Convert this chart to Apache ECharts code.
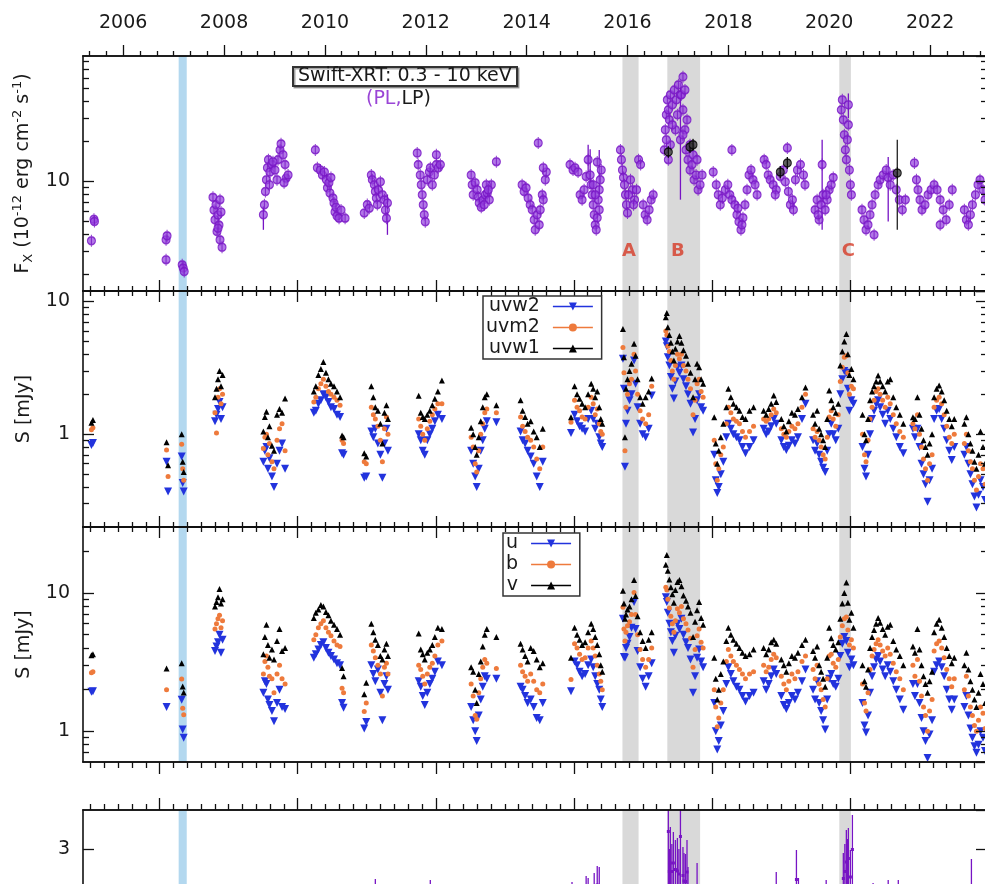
<!DOCTYPE html>
<html>
<head>
<meta charset="utf-8">
<title>Multiwavelength light curves</title>
<script src="https://cdn.jsdelivr.net/npm/echarts@6/dist/echarts.min.js"></script>
<style>
html,body{margin:0;padding:0;background:#ffffff;}
#chart{width:985px;height:884px;}
</style>
</head>
<body>
<div id="chart"></div>
<script>
// ---------------- tick label lists ----------------
const yearTickLabels = [2006, 2008, 2010, 2012, 2014, 2016, 2018, 2020, 2022];
const mjdMajorTicks = [54000, 55000, 56000, 57000, 58000, 59000];
const fxMinorTicks = [2, 3, 4, 5, 6, 7, 8, 9, 20, 30, 40, 50, 60, 70, 80];
const uvMinorTicks = [0.3, 0.4, 0.5, 0.6, 0.7, 0.8, 0.9, 2, 3, 4, 5, 6, 7, 8, 9];
const optMinorTicks = [0.7, 0.8, 0.9, 2, 3, 4, 5, 6, 7, 8, 9, 20];

// ---------------- shaded intervals (decimal year) ----------------
const blueBand = [2007.10, 2007.26];
const greyBands = [[2015.90, 2016.22], [2016.79, 2017.44], [2020.20, 2020.43]];
const bandLetters = ['A', 'B', 'C'];
const bandLetterX = [2016.03, 2017.00, 2020.38];
const bandLetterF = 2.96;

// ---------------- Swift-XRT 0.3-10 keV flux (1e-12 erg cm-2 s-1) ----------------
const xrtPL = [
[2005.37,3.58],[2005.42,5.2],[2005.43,5.0],
[2006.85,3.64],[2006.87,3.9],[2006.85,2.58],
[2007.17,2.36],[2007.19,2.23],[2007.21,2.1],
[2007.78,7.6],[2007.80,6.1],[2007.82,5.15],[2007.84,6.7],[2007.86,4.2],[2007.88,5.6],[2007.90,4.7],[2007.92,3.64],[2007.94,5.9],[2007.96,3.2],[2007.92,7.3],[2007.88,4.45],
[2008.78,5.62],[2008.80,6.68],[2008.82,8.4],[2008.84,10.3],[2008.86,12.7],[2008.88,14.6],[2008.91,11.8],[2008.95,13.4],[2009.01,12.2],[2009.07,14.6],[2009.11,17.3],[2009.13,19.2],[2009.17,15.9],[2009.21,13.4],[2009.23,10.6],[2009.27,11.2],[2009.05,10.3],[2008.97,14.1],[2008.90,9.45],[2009.19,9.8],
[2009.81,17.3],[2009.85,12.7],[2009.91,12.2],[2009.95,11.2],[2009.99,11.8],[2010.03,10.3],[2010.05,8.96],[2010.08,9.8],[2010.10,8.2],[2010.12,10.7],[2010.16,7.5],[2010.18,6.9],[2010.20,5.9],[2010.22,6.4],[2010.24,5.5],[2010.28,5.3],[2010.32,6.1],[2010.40,5.3],
[2010.78,5.8],[2010.84,6.7],[2010.88,6.3],[2010.92,11.2],[2010.94,10.3],[2010.98,9.45],[2011.00,8.4],[2011.02,7.5],[2011.04,6.7],[2011.06,8.66],[2011.10,9.95],[2011.14,7.94],[2011.18,7.28],[2011.20,6.1],[2011.22,5.3],[2011.24,6.9],
[2011.83,16.4],[2011.85,13.4],[2011.89,11.2],[2011.91,9.45],[2011.93,7.94],[2011.95,6.68],[2011.97,5.62],[2011.99,4.98],[2012.03,10.3],[2012.07,11.8],[2012.09,12.7],[2012.13,9.45],[2012.17,11.2],[2012.21,13.4],[2012.21,15.9],[2012.25,12.7],[2012.29,13.4],
[2012.90,11.2],[2012.92,9.45],[2012.94,7.94],[2012.98,9.8],[2013.02,8.66],[2013.04,7.66],[2013.06,6.9],[2013.10,6.4],[2013.14,7.28],[2013.18,7.94],[2013.22,8.2],[2013.26,7.28],[2013.30,9.45],[2013.16,6.68],[2013.20,9.45],[2013.24,8.66],[2013.40,14.1],
[2013.91,9.45],[2013.95,8.4],[2013.99,8.96],[2014.03,7.5],[2014.07,6.68],[2014.11,6.12],[2014.15,5.15],[2014.17,4.33],[2014.21,5.62],[2014.25,4.72],[2014.27,6.12],[2014.31,7.94],[2014.33,7.28],[2014.37,10.3],[2014.39,11.8],[2014.33,12.7],[2014.23,19.5],
[2014.86,13.4],[2014.92,12.2],[2014.96,12.7],[2015.02,11.8],[2015.06,7.94],[2015.10,7.28],[2015.14,8.66],[2015.18,10.9],[2015.22,14.6],[2015.26,11.2],[2015.28,9.45],[2015.30,7.94],[2015.32,6.68],[2015.34,5.62],[2015.36,4.72],[2015.38,4.33],[2015.40,5.33],[2015.42,7.28],[2015.44,8.66],[2015.46,10.3],[2015.48,12.2],[2015.40,14.0],[2015.36,7.94],[2015.32,9.45],[2015.44,6.12],
[2015.86,17.3],[2015.88,14.6],[2015.90,12.2],[2015.92,10.7],[2015.94,9.45],[2015.96,7.94],[2015.98,6.68],[2016.00,5.8],[2016.06,10.3],[2016.10,8.66],[2016.14,7.28],[2016.18,8.66],[2016.22,14.6],[2016.26,13.4],[2016.31,6.68],[2016.35,5.62],[2016.39,5.15],[2016.43,6.12],[2016.47,7.28],[2016.51,7.94],[2016.02,7.94],[2016.12,6.68],
[2016.73,17.3],[2016.75,24.5],[2016.77,31.8],[2016.79,41.2],[2016.81,34.6],[2016.83,29.1],[2016.85,44.9],[2016.89,37.8],[2016.93,48.9],[2016.97,41.2],[2017.01,53.4],[2017.05,44.9],[2017.10,61.3],[2017.07,44.9],[2017.10,34.6],[2017.14,24.5],[2017.16,17.3],[2017.20,14.6],[2017.24,12.2],[2017.28,13.4],[2017.32,10.3],[2017.36,11.2],[2017.40,8.66],[2017.44,9.45],[2017.48,11.2],[2017.14,48.9],[2016.95,24.5],[2016.85,18.9],[2017.05,20.6],[2017.24,18.9],[2016.89,26.7],[2016.99,31.8],[2017.10,22.5],[2017.18,29.1],[2016.77,20.6],[2016.81,14.6],[2017.30,15.9],[2017.38,14.6],
[2017.70,11.8],[2017.76,9.45],[2017.80,7.94],[2017.84,6.68],[2017.88,7.5],[2017.94,8.66],[2017.99,9.45],[2018.03,7.94],[2018.07,7.28],[2018.13,6.68],[2018.17,5.62],[2018.21,4.98],[2018.25,4.33],[2018.29,5.33],[2018.33,6.68],[2018.37,8.66],[2018.41,11.2],[2018.45,12.2],[2018.49,10.3],[2018.53,9.45],[2018.57,7.94],[2018.07,17.3],[2018.19,6.3],[2018.27,4.72],
[2018.71,14.6],[2018.75,13.4],[2018.79,11.2],[2018.83,10.3],[2018.89,9.45],[2018.95,8.66],[2019.03,10.9],[2019.09,12.2],[2019.13,9.95],[2019.19,8.4],[2019.23,6.68],[2019.27,7.28],[2019.33,10.3],[2019.37,12.2],[2019.43,13.4],[2019.49,11.2],[2019.52,9.45],[2019.17,17.9],[2018.93,7.94],[2019.29,6.12],
[2019.72,6.12],[2019.76,7.28],[2019.80,5.15],[2019.84,6.68],[2019.88,7.94],[2019.92,6.12],[2019.96,7.28],[2020.00,8.66],[2020.04,9.45],[2020.08,10.7],[2019.86,13.4],[2019.78,5.62],[2019.94,7.94],
[2020.24,34.6],[2020.26,41.2],[2020.28,29.1],[2020.30,22.5],[2020.32,17.3],[2020.34,14.6],[2020.36,20.6],[2020.38,26.7],[2020.40,12.2],[2020.42,9.45],[2020.44,7.94],[2020.38,37.8],
[2020.65,6.12],[2020.69,5.15],[2020.73,4.33],[2020.77,4.72],[2020.81,5.62],[2020.85,6.68],[2020.91,7.94],[2020.97,9.45],[2021.01,10.3],[2021.07,11.2],[2021.13,12.2],[2021.17,10.7],[2021.21,9.45],[2021.27,11.2],[2021.33,8.66],[2021.39,7.28],[2021.45,6.12],[2021.51,7.28],[2020.89,3.97],
[2021.69,13.8],[2021.73,10.3],[2021.76,8.66],[2021.80,7.28],[2021.84,6.12],[2021.90,6.68],[2021.96,7.94],[2022.02,8.66],[2022.08,9.45],[2022.14,8.66],[2022.20,7.28],[2022.26,6.12],[2022.32,5.15],[2022.38,6.68],[2022.44,8.66],[2022.20,4.72],
[2022.68,6.12],[2022.72,5.15],[2022.76,4.72],[2022.80,5.62],[2022.84,6.68],[2022.90,7.94],[2022.95,9.45],[2022.99,10.3],[2023.05,8.66],[2023.09,7.28]
];
// long error bars on PL points: [t, low, high]
const xrtPLerr = [[2008.78,4.33,6.5],[2011.24,3.97,8.0],[2015.22,11.5,18.9],[2015.26,9.0,17.5],[2015.44,8.0,17.3],[2017.05,7.3,55],[2019.86,4.33,20.6],[2020.38,30,46],[2021.17,5.0,15.3]];
// log-parabola (LP) points and their error bars
const xrtLP = [[2016.81,16.7],[2017.24,18.2],[2017.30,18.9],[2019.03,11.8],[2019.17,13.8],[2021.35,11.6]];
const xrtLPerr = [[2016.81,15.2,18.3],[2017.24,16.5,20.0],[2017.30,17.2,20.8],[2019.03,10.6,13.1],[2019.17,12.4,15.3],[2021.35,4.33,20.6]];

// ---------------- Swift-UVOT (mJy) ----------------
const uvT = [
2005.37,2005.40,
2006.86,2006.89,
2007.16,2007.18,2007.20,
2007.82,2007.85,2007.88,2007.91,2007.94,2007.97,
2008.78,2008.81,2008.84,2008.87,2008.90,2008.95,2008.99,2009.05,2009.10,2009.15,2009.21,
2009.78,2009.82,2009.87,2009.92,2009.97,2010.02,2010.07,2010.12,2010.18,2010.24,2010.30,2010.34,2010.37,
2010.78,2010.82,2010.92,2010.96,2011.00,2011.05,2011.10,2011.14,2011.18,2011.22,2011.25,
2011.86,2011.90,2011.94,2011.98,2012.03,2012.08,2012.13,2012.18,2012.24,2012.32,
2012.90,2012.94,2012.98,2013.01,2013.05,2013.09,2013.13,2013.17,2013.21,2013.40,
2013.88,2013.92,2013.97,2014.02,2014.08,2014.14,2014.20,2014.26,2014.32,
2014.88,2014.95,2015.00,2015.05,2015.10,2015.16,2015.22,2015.28,2015.32,2015.36,2015.40,2015.44,2015.47,2015.50,
2015.91,2015.93,2015.95,2015.97,2016.00,2016.04,2016.08,2016.13,2016.16,2016.20,2016.25,2016.30,2016.36,2016.42,2016.48,
2016.76,2016.78,2016.80,2016.83,2016.86,2016.89,2016.92,2016.95,2016.99,2017.03,2017.07,2017.11,2017.16,2017.20,2017.25,2017.30,2017.34,2017.38,2017.42,2017.46,2017.50,
2017.72,2017.75,2017.78,2017.81,2017.85,2017.90,2017.96,2018.00,2018.05,2018.10,2018.16,2018.22,2018.28,2018.34,2018.42,2018.50,
2018.70,2018.75,2018.80,2018.85,2018.90,2018.95,2019.05,2019.10,2019.15,2019.20,2019.26,2019.32,2019.38,2019.46,2019.53,
2019.68,2019.72,2019.76,2019.80,2019.84,2019.88,2019.92,2019.96,2020.00,2020.04,2020.08,2020.13,2020.18,
2020.22,2020.26,2020.30,2020.34,2020.37,2020.40,2020.44,2020.48,
2020.66,2020.70,2020.73,2020.77,2020.81,2020.85,2020.89,2020.93,2020.97,2021.01,2021.06,2021.11,2021.16,2021.21,2021.27,2021.33,2021.40,2021.47,
2021.66,2021.70,2021.75,2021.79,2021.83,2021.87,2021.91,2021.95,2021.99,2022.04,
2022.08,2022.13,2022.18,2022.23,2022.28,2022.33,2022.38,2022.43,2022.48,
2022.68,2022.72,2022.76,2022.80,2022.84,2022.88,2022.92,2022.96,2023.00,2023.05,2023.09
];
const uvw2 = [
0.83,0.86,
0.62,0.37,
0.68,0.43,0.37,
1.25,1.40,1.55,1.75,1.30,1.60,
0.62,0.75,0.80,0.55,0.66,0.48,0.40,0.60,0.75,0.85,0.55,
1.45,1.50,1.70,1.80,2.00,1.90,1.75,1.60,1.55,1.40,1.35,0.72,0.70,
0.47,0.48,1.05,0.95,1.10,0.85,0.70,0.47,0.85,1.10,0.75,
1.00,0.90,0.75,0.70,0.90,1.00,1.10,1.25,1.40,1.30,
0.75,0.60,0.48,0.40,0.55,0.75,0.90,1.10,1.25,1.23,
1.05,0.90,0.85,0.75,0.68,0.60,0.48,0.40,0.62,
1.02,1.40,1.25,1.15,1.10,1.05,1.30,1.50,1.30,1.10,1.20,0.95,0.85,0.80,
3.70,2.20,0.57,1.20,1.50,1.80,2.00,3.60,2.40,1.60,1.20,1.00,0.95,1.10,1.96,
5.0,4.6,3.8,3.3,2.7,2.2,1.86,2.5,3.2,2.9,3.3,2.6,2.3,2.0,1.7,1.03,1.3,1.8,2.0,1.6,1.5,
0.70,0.45,0.36,0.40,0.50,0.62,0.95,1.20,1.10,1.00,0.95,0.90,0.80,0.72,0.80,0.90,
1.10,1.00,1.05,1.15,1.30,1.20,0.90,0.80,0.76,0.82,0.90,0.85,0.95,1.30,1.70,
0.90,0.75,0.85,0.70,0.62,0.56,0.52,0.75,1.00,1.20,1.00,0.90,1.10,
2.0,2.6,3.0,2.9,2.2,1.5,1.8,1.7,
0.80,0.55,0.48,0.70,1.00,1.30,1.50,1.70,1.80,1.60,1.40,1.20,1.50,1.30,1.10,0.95,0.80,0.72,
1.10,0.95,1.10,0.80,0.60,0.50,0.42,0.31,0.45,0.55,
1.30,1.50,1.55,1.30,1.10,0.90,0.75,0.64,0.80,
0.70,0.80,0.60,0.50,0.42,0.34,0.28,0.35,0.45,0.40,0.32
];
const uvm2 = [
1.08,1.12,
0.76,0.48,
0.84,0.55,0.45,
1.45,1.02,1.90,2.20,1.70,2.00,
0.78,0.95,1.00,0.70,0.85,0.62,0.55,0.90,1.10,1.20,0.75,
1.75,1.90,2.20,2.40,2.60,2.30,2.10,2.00,1.90,1.80,1.65,0.90,0.85,
0.62,0.60,1.60,1.40,1.30,1.15,0.90,0.62,1.10,1.35,1.00,
1.30,1.15,1.00,0.90,1.10,1.25,1.40,1.55,1.70,1.70,
0.95,0.80,0.60,0.52,0.75,1.00,1.20,1.45,1.55,1.45,
1.35,1.15,1.05,0.95,0.90,0.80,0.65,0.55,0.80,
1.23,1.80,1.60,1.50,1.35,1.30,1.60,1.90,1.70,1.40,1.55,1.20,1.05,1.00,
4.50,2.90,0.75,1.60,2.00,2.40,2.60,4.00,3.00,2.00,1.50,1.30,1.20,1.40,2.30,
6.0,5.6,4.6,4.2,3.6,3.0,2.6,3.3,4.0,3.7,4.0,3.3,3.0,2.6,2.2,1.4,1.8,2.4,2.6,2.1,1.9,
0.90,0.60,0.45,0.55,0.70,0.80,1.20,1.60,1.45,1.30,1.25,1.20,1.05,0.95,1.05,1.15,
1.30,1.25,1.30,1.40,1.55,1.45,1.10,1.00,0.95,1.05,1.15,1.10,1.20,1.60,2.00,
1.10,0.95,1.05,0.90,0.80,0.70,0.65,0.95,1.35,1.50,1.30,1.15,1.40,
2.5,3.2,3.8,3.9,2.9,2.0,2.3,2.2,
1.00,0.70,0.62,0.90,1.30,1.60,1.80,2.10,2.20,2.00,1.80,1.60,1.90,1.70,1.40,1.20,1.05,0.95,
1.20,1.10,1.40,1.00,0.80,0.65,0.55,0.45,0.60,0.70,
1.60,1.80,1.90,1.70,1.40,1.15,0.95,0.85,1.00,
0.85,1.00,0.75,0.62,0.55,0.45,0.38,0.48,0.60,0.55,0.42
];
const uvw1 = [
1.22,1.28,
0.87,0.585,
1.00,0.62,0.52,
1.90,2.20,2.60,3.00,2.30,2.80,
1.05,1.35,1.48,0.95,1.15,0.82,0.75,1.40,1.55,1.45,1.86,
2.10,2.30,2.80,3.10,3.50,2.90,2.60,2.40,2.30,2.10,1.90,0.98,0.95,
0.72,0.68,2.30,1.90,1.60,1.50,1.20,0.85,1.45,1.65,1.30,
1.95,1.45,1.35,1.30,1.40,1.50,1.65,1.85,2.10,2.54,
1.12,1.00,0.80,0.70,0.95,1.25,1.60,1.90,2.00,1.65,
1.80,1.50,1.35,1.20,1.25,1.05,0.95,0.80,1.10,
1.34,2.30,2.00,1.85,1.70,1.60,2.00,2.40,2.20,1.90,2.10,1.60,1.30,1.20,
6.20,3.80,0.95,2.20,2.60,3.00,3.40,4.80,3.90,2.60,1.90,1.70,1.90,2.10,2.63,
7.6,8.2,6.4,5.6,4.9,4.2,3.6,4.4,5.0,5.5,4.9,4.3,3.9,3.4,2.9,1.9,2.6,3.4,3.2,2.6,2.4,
1.34,0.85,0.60,0.75,0.95,1.20,1.60,2.20,1.90,1.70,1.60,1.50,1.35,1.30,1.50,1.60,
1.50,1.40,1.55,1.70,1.96,1.75,1.30,1.15,1.05,1.25,1.45,1.40,1.55,1.90,2.25,
1.40,1.20,1.50,1.10,1.00,0.90,0.80,1.30,2.14,1.80,1.60,1.45,1.70,
3.3,4.2,5.0,5.7,4.0,2.8,3.1,2.6,
1.40,1.00,0.90,1.30,1.80,2.10,2.30,2.50,2.77,2.50,2.30,2.10,2.50,2.60,1.90,1.60,1.40,1.20,
1.34,1.30,1.90,1.40,1.10,0.90,0.80,0.70,0.85,1.00,
1.90,2.20,2.33,2.10,1.80,1.50,1.30,1.15,1.30,
1.20,1.34,1.00,0.85,0.75,0.62,0.55,0.70,1.05,0.80,0.60
];
const uU = [
1.93,1.95,
1.50,null,
1.69,1.03,0.90,
3.8,4.1,4.4,5.0,3.7,4.6,
1.9,2.3,2.2,1.7,1.55,1.4,1.18,1.6,2.0,1.5,1.45,
3.4,3.6,3.9,4.2,4.4,4.0,3.7,3.5,3.3,3.1,3.0,1.6,1.48,
1.05,1.17,3.0,2.6,2.3,2.8,1.9,1.2,2.2,2.5,2.0,
2.3,2.1,1.8,1.55,1.9,2.2,2.4,2.7,3.2,3.0,
1.5,1.2,1.0,0.85,1.3,1.7,2.1,2.5,2.4,2.4,
2.1,2.0,1.8,1.6,1.7,1.5,1.25,1.2,1.6,
1.95,3.2,3.0,2.7,2.5,2.6,3.0,3.3,2.9,2.5,2.2,2.0,1.7,1.5,
6.5,3.45,3.4,4.0,4.3,4.8,5.6,8.6,5.5,3.8,2.9,2.4,2.1,2.5,3.1,
9.3,8.6,7.2,6.0,5.2,4.5,3.7,4.9,6.0,5.5,6.5,5.0,4.4,4.0,3.3,1.9,2.5,3.4,3.9,3.2,2.9,
1.6,1.0,0.74,0.85,1.1,1.4,2.2,2.9,2.6,2.3,2.1,2.0,1.8,1.64,1.8,1.9,
2.3,2.0,2.2,2.5,2.8,2.6,1.8,1.55,1.45,1.6,1.8,1.7,1.9,2.3,2.8,
2.0,1.7,2.3,1.6,1.4,1.2,1.03,1.7,2.4,2.6,2.2,2.1,2.4,
3.5,4.3,4.8,4.5,3.7,2.9,3.3,3.0,
1.6,1.1,0.98,1.3,1.9,2.5,2.9,3.3,3.5,3.2,2.8,2.5,3.0,2.7,2.3,2.0,1.7,1.43,
2.2,1.8,2.2,1.6,1.25,1.0,0.85,0.64,0.95,1.2,
2.7,3.0,3.2,2.9,2.5,2.0,1.7,1.43,1.7,
1.5,1.8,1.3,1.05,0.9,0.78,0.7,0.8,1.0,0.9,0.72
];
const uB = [
2.65,2.70,
2.00,null,
2.39,1.47,1.32,
5.5,6.0,6.5,6.9,5.6,6.3,
2.6,3.2,3.5,2.9,2.5,2.4,1.9,2.6,3.0,2.4,2.2,
4.6,5.0,5.6,6.0,6.3,5.6,5.2,4.9,4.5,4.2,4.1,2.05,1.9,
1.39,1.60,4.2,3.8,3.4,3.0,2.6,1.8,2.9,3.1,2.6,
3.0,2.8,2.5,2.2,2.6,2.9,3.1,3.5,4.2,4.5,
2.2,1.8,1.3,1.22,1.9,2.4,2.9,3.3,3.1,2.85,
3.0,2.7,2.5,2.3,2.6,2.3,2.0,1.9,2.2,
2.37,4.3,4.0,3.6,3.3,3.4,4.0,4.5,4.0,3.5,3.0,2.6,2.3,2.0,
7.9,5.5,4.5,5.2,5.8,6.2,7.0,10.1,7.0,5.0,3.9,3.3,2.9,3.3,4.0,
11,10.5,9.0,7.8,6.8,6.0,5.2,6.3,7.7,7.2,8.0,6.5,6.0,5.4,4.7,2.9,3.9,4.9,5.5,4.4,4.0,
2.0,1.5,1.08,1.25,1.6,2.0,3.2,3.9,3.5,3.2,3.0,2.8,2.6,2.4,2.6,2.7,
3.0,2.7,2.9,3.3,3.6,3.4,2.5,2.2,2.0,2.3,2.6,2.4,2.7,3.2,3.5,
2.8,2.4,3.0,2.2,2.0,1.7,1.5,2.4,3.5,3.6,3.1,2.9,3.3,
4.8,5.8,6.5,6.7,5.4,4.2,4.6,4.0,
2.2,1.6,1.4,1.9,2.8,3.5,3.9,4.3,4.6,4.2,3.8,3.5,4.0,3.6,3.1,2.7,2.4,2.0,
3.0,2.5,3.3,2.3,1.8,1.5,1.3,1.0,1.4,1.7,
3.8,4.3,4.5,4.0,3.4,2.8,2.4,2.1,2.4,
2.0,2.5,1.8,1.5,1.3,1.1,1.0,1.2,1.5,1.35,1.05
];
const uV = [
3.55,3.60,
2.85,null,
3.10,2.11,1.91,
8.0,8.6,9.3,10.7,8.4,9.0,
3.6,4.8,5.9,4.2,3.4,3.9,3.3,4.5,5.5,3.8,4.0,
6.6,7.2,7.6,8.2,8.0,7.3,6.9,6.3,5.9,5.5,5.0,2.87,2.5,
1.85,2.24,6.0,5.2,4.6,4.2,3.5,3.3,3.9,4.3,3.5,
5.1,3.9,3.6,3.3,3.7,3.9,4.2,4.8,5.6,5.5,
2.9,2.7,2.0,1.6,2.6,3.2,4.1,5.0,5.5,4.8,
4.3,3.9,3.5,3.2,4.0,3.8,3.3,2.9,3.1,
3.4,5.6,5.0,4.6,4.2,4.4,5.2,6.0,5.5,4.8,4.2,3.6,3.0,2.7,
10.4,8.4,6.5,7.0,7.6,8.0,9.0,12.4,9.5,6.8,5.2,4.5,4.0,4.6,5.2,
16,18.8,14.5,12.5,11.0,9.8,8.5,10.5,12.0,12.4,11.2,9.6,8.8,8.0,7.2,4.8,6.2,7.5,8.6,6.6,5.9,
3.4,2.4,1.7,2.0,2.6,3.2,4.5,5.6,5.0,4.6,4.3,4.0,3.7,3.5,3.6,3.9,
4.0,3.6,3.9,4.4,4.6,4.3,3.3,3.0,2.7,3.1,3.5,3.4,3.7,4.2,4.6,
3.8,3.4,4.1,3.0,2.7,2.4,2.1,3.4,5.6,4.7,4.2,3.9,4.4,
6.5,8.4,10.0,11.9,8.5,6.4,7.2,5.6,
3.0,2.3,2.1,2.8,4.0,4.8,5.4,6.0,6.6,6.1,5.5,5.0,5.7,5.9,4.5,3.9,3.5,3.0,
4.1,3.7,5.5,3.9,3.0,2.5,2.2,1.9,2.3,2.7,
5.2,6.0,6.4,5.6,4.8,4.0,3.5,3.1,3.4,
3.0,3.7,2.8,2.3,2.0,1.7,1.5,1.9,2.6,2.2,1.6
];

// ---------------- bottom panel: [t, low, high] of the error bars ----------------
const lat = [
[2011.00,1.6,2.40],[2012.09,1.6,2.38],
[2014.90,1.5,2.34],[2015.18,1.7,2.46],[2015.22,1.6,2.42],[2015.34,1.8,2.52],[2015.40,1.9,2.66],[2015.44,1.8,2.64],
[2016.81,2.2,4.5],[2016.83,2.1,3.0],[2016.85,2.0,3.44],[2016.88,2.0,3.1],[2016.91,2.1,3.34],[2016.95,2.0,3.18],[2016.99,1.9,3.22],[2017.02,2.0,3.0],[2017.05,2.2,4.3],[2017.10,1.9,3.04],[2017.12,1.8,2.92],[2017.15,1.8,2.9],[2017.18,1.9,3.18],[2017.20,1.6,2.64],[2017.38,1.6,2.72],
[2018.95,1.6,2.54],[2019.35,1.8,2.98],[2019.39,1.5,2.42],[2019.94,1.5,2.38],
[2020.28,1.9,2.92],[2020.31,2.0,3.1],[2020.34,2.1,3.38],[2020.36,2.0,3.2],[2020.38,2.2,3.42],[2020.42,1.9,2.98],[2020.46,2.3,3.68],
[2020.87,1.5,2.32],[2021.17,1.5,2.38],[2021.37,1.5,2.38],[2022.82,1.7,2.80]
];

// ---------------- layout / style ----------------
const FONT = 'DejaVu Sans';
const INK = '#1a1a1a';
const X_MIN = 2005.203, X_MAX = 2023.129;
const FX_RANGE = [1.5, 88], UV_RANGE = [0.2, 12], OPT_RANGE = [0.6, 30], LAT_RANGE = [0, 3.78];
const C_XRT = '#7714c4', C_XRT_FILL = 'rgba(150,70,222,0.92)';
const C_BLUE = '#2233dd', C_ORANGE = '#ee7a3c', C_BLACK = '#000000';

const mjdToYear = m => 2000 + (m - 51544.5) / 365.25;
const mjdMajorYears = mjdMajorTicks.map(mjdToYear);
const mjdMinorYears = [];
for (let m = 53500; m < 60000; m += 100) if (m % 1000 !== 0) mjdMinorYears.push(mjdToYear(m));
const yearMinorTicks = [];
for (let k = Math.ceil(X_MIN * 3); k <= Math.floor(X_MAX * 3); k++) if (k % 6 !== 0) yearMinorTicks.push(k / 3);

const grids = [
  { left: 83, top: 56, width: 904, height: 235 },
  { left: 83, top: 291, width: 904, height: 236 },
  { left: 83, top: 527, width: 904, height: 235 },
  { left: 83, top: 810, width: 904, height: 189 }
].map(g => Object.assign({ containLabel: false, outerBoundsMode: 'none', show: false }, g));

const lineCol = { color: '#111', width: 1.6 };
const tickCol = { color: '#111', width: 1.3 };

function xAxisDef(g, position, ticks, len, inside, labels) {
  return {
    type: 'value', gridIndex: g, position, min: X_MIN, max: X_MAX, z: 10,
    axisLine: { show: true, onZero: false, lineStyle: lineCol },
    axisTick: { show: true, inside, length: len, customValues: ticks, lineStyle: tickCol },
    axisLabel: labels
      ? { show: true, customValues: ticks, margin: 23, fontSize: 19, color: INK, fontFamily: FONT, formatter: v => String(Math.round(v)) }
      : { show: false },
    splitLine: { show: false }, axisPointer: { show: false }
  };
}
function yLogDef(g, position, range, labels, name, nameGap, nameStyle) {
  const d = {
    type: 'log', logBase: 10, gridIndex: g, position, min: range[0], max: range[1], z: 10,
    axisLine: { show: true, onZero: false, lineStyle: lineCol },
    axisTick: { show: true, inside: true, length: 11, lineStyle: tickCol },
    axisLabel: labels ? { show: true, showMinLabel: false, showMaxLabel: false, margin: 13, fontSize: 19, color: INK, fontFamily: FONT } : { show: false },
    splitLine: { show: false }, axisPointer: { show: false }
  };
  if (name) Object.assign(d, { name, nameLocation: 'middle', nameRotate: 90, nameGap, nameTextStyle: nameStyle });
  return d;
}
function yMinorDef(g, position, range, ticks) {
  return {
    type: 'value', gridIndex: g, position, min: Math.log10(range[0]), max: Math.log10(range[1]), z: 10,
    axisLine: { show: false, onZero: false },
    axisTick: { show: true, inside: true, length: 6, customValues: ticks.map(v => Math.log10(v)), lineStyle: tickCol },
    axisLabel: { show: false }, splitLine: { show: false }, axisPointer: { show: false }
  };
}
function yLinDef(g, position, range, labels) {
  return {
    type: 'value', gridIndex: g, position, min: range[0], max: range[1], interval: 1, z: 10,
    axisLine: { show: true, onZero: false, lineStyle: lineCol },
    axisTick: { show: true, inside: true, length: 11, lineStyle: tickCol },
    axisLabel: labels ? { show: true, showMaxLabel: false, margin: 13, fontSize: 19, color: INK, fontFamily: FONT } : { show: false },
    splitLine: { show: false }, axisPointer: { show: false }
  };
}

const xAxes = [], yAxes = [], dataX = [], dataY = [];
const addX = d => (xAxes.push(d), xAxes.length - 1);
const addY = d => (yAxes.push(d), yAxes.length - 1);

// panel 0 (X-ray)
dataX[0] = addX(xAxisDef(0, 'bottom', mjdMajorYears, 11, true, false));
addX(xAxisDef(0, 'bottom', mjdMinorYears, 5, true, false));
addX(xAxisDef(0, 'top', yearTickLabels, 11, false, true));
addX(xAxisDef(0, 'top', yearMinorTicks, 5, false, false));
// panel 1 (UV)
dataX[1] = addX(xAxisDef(1, 'bottom', mjdMajorYears, 11, true, false));
addX(xAxisDef(1, 'bottom', mjdMinorYears, 5, true, false));
addX(xAxisDef(1, 'top', mjdMajorYears, 11, true, false));
addX(xAxisDef(1, 'top', mjdMinorYears, 5, true, false));
// panel 2 (optical)
dataX[2] = addX(xAxisDef(2, 'bottom', mjdMajorYears, 12, false, false));
addX(xAxisDef(2, 'bottom', mjdMinorYears, 6, false, false));
addX(xAxisDef(2, 'top', mjdMajorYears, 11, true, false));
addX(xAxisDef(2, 'top', mjdMinorYears, 5, true, false));
// panel 3 (bottom)
dataX[3] = addX(xAxisDef(3, 'top', mjdMajorYears, 12, false, false));
addX(xAxisDef(3, 'top', mjdMinorYears, 6, false, false));
addX(xAxisDef(3, 'bottom', mjdMajorYears, 11, true, false));

const nameRich = {
  n: { fontSize: 19, fontFamily: FONT, color: INK, lineHeight: 24, fontWeight: 'normal' },
  s: { fontSize: 13, fontFamily: FONT, color: INK, lineHeight: 14, verticalAlign: 'bottom', fontWeight: 'normal' },
  p: { fontSize: 13, fontFamily: FONT, color: INK, lineHeight: 14, verticalAlign: 'top', fontWeight: 'normal' }
};
const plainName = { fontSize: 19, fontFamily: FONT, color: INK };

dataY[0] = addY(yLogDef(0, 'left', FX_RANGE, true,
  '{n|F}{s|X}{n| (10}{p|-12}{n| erg cm}{p|-2}{n| s}{p|-1}{n|)}', 42, { fontSize: 19, fontFamily: FONT, color: INK, rich: nameRich }));
addY(yMinorDef(0, 'left', FX_RANGE, fxMinorTicks));
addY(yLogDef(0, 'right', FX_RANGE, false));
addY(yMinorDef(0, 'right', FX_RANGE, fxMinorTicks));

dataY[1] = addY(yLogDef(1, 'left', UV_RANGE, true, 'S [mJy]', 49, plainName));
addY(yMinorDef(1, 'left', UV_RANGE, uvMinorTicks));
addY(yLogDef(1, 'right', UV_RANGE, false));
addY(yMinorDef(1, 'right', UV_RANGE, uvMinorTicks));

dataY[2] = addY(yLogDef(2, 'left', OPT_RANGE, true, 'S [mJy]', 49, plainName));
addY(yMinorDef(2, 'left', OPT_RANGE, optMinorTicks));
addY(yLogDef(2, 'right', OPT_RANGE, false));
addY(yMinorDef(2, 'right', OPT_RANGE, optMinorTicks));

dataY[3] = addY(yLinDef(3, 'left', LAT_RANGE, true));
addY(yLinDef(3, 'right', LAT_RANGE, false));

// ---------------- renderers ----------------
const bandData = [[blueBand[0], blueBand[1], 0]].concat(greyBands.map(b => [b[0], b[1], 1]));
function bandRenderer(params, api) {
  const cs = params.coordSys;
  const x0 = api.coord([api.value(0), 1])[0];
  const x1 = api.coord([api.value(1), 1])[0];
  return {
    type: 'rect', shape: { x: x0, y: cs.y, width: x1 - x0, height: cs.height },
    style: { fill: api.value(2) === 0 ? '#b3d8ef' : '#d9d9d9' }
  };
}
function errorBarRenderer(color, width, capMax, dot) {
  return function (params, api) {
    const t = api.value(0), lo = api.value(1), hiRaw = api.value(2);
    const hi = capMax != null ? Math.min(hiRaw, capMax) : hiRaw;
    const a = api.coord([t, lo]), b = api.coord([t, hi]);
    const children = [{ type: 'line', shape: { x1: a[0], y1: a[1], x2: b[0], y2: b[1] }, style: { stroke: color, lineWidth: width } }];
    if (dot) {
      const m = api.coord([t, (lo + hiRaw) / 2]);
      children.push({ type: 'rect', shape: { x: m[0] - 1.5, y: m[1] - 1.5, width: 3, height: 3 }, style: { fill: color } });
    }
    return { type: 'group', children };
  };
}
function bandSeries(g) {
  return { type: 'custom', xAxisIndex: dataX[g], yAxisIndex: dataY[g], data: bandData, renderItem: bandRenderer, z: 1, silent: true };
}
function uvSeries(g, name, values, symbol, rotate, size, color) {
  return {
    type: 'line', name, xAxisIndex: dataX[g], yAxisIndex: dataY[g],
    data: uvT.map((t, i) => [t, values[i]]),
    symbol, symbolRotate: rotate, symbolSize: size, showSymbol: true, showAllSymbol: true,
    lineStyle: { width: 0, opacity: 0 }, itemStyle: { color }, z: 3, silent: true, connectNulls: false
  };
}
const xrtSymbol = 'path://M0,-15L0,15M10,0A10,10,0,1,1,-10,0A10,10,0,1,1,10,0Z';

const series = [
  bandSeries(0), bandSeries(1), bandSeries(2), bandSeries(3),
  { type: 'custom', xAxisIndex: dataX[0], yAxisIndex: dataY[0], data: xrtPLerr, renderItem: errorBarRenderer(C_XRT, 1.3, null, false), z: 3, silent: true },
  { type: 'scatter', xAxisIndex: dataX[0], yAxisIndex: dataY[0], data: xrtPL, symbol: xrtSymbol, symbolSize: [8, 12],
    itemStyle: { color: C_XRT_FILL, borderColor: C_XRT, borderWidth: 1.3 }, z: 4, silent: true },
  { type: 'custom', xAxisIndex: dataX[0], yAxisIndex: dataY[0], data: xrtLPerr, renderItem: errorBarRenderer('#222', 1.3, null, false), z: 5, silent: true },
  { type: 'scatter', xAxisIndex: dataX[0], yAxisIndex: dataY[0], data: xrtLP, symbol: xrtSymbol, symbolSize: [8, 12],
    itemStyle: { color: '#3a3a3a', borderColor: '#000', borderWidth: 1.2 }, z: 5, silent: true },
  { type: 'scatter', xAxisIndex: dataX[0], yAxisIndex: dataY[0],
    data: bandLetterX.map((x, i) => ({ name: bandLetters[i], value: [x, bandLetterF] })),
    symbolSize: 1, itemStyle: { color: 'transparent' }, silent: true, z: 6,
    label: { show: true, position: 'inside', formatter: '{b}', color: '#d63a26', fontSize: 18, fontWeight: 'bold', fontFamily: FONT } },
  uvSeries(1, 'uvw2', uvw2, 'triangle', 180, 8, C_BLUE),
  uvSeries(1, 'uvm2', uvm2, 'circle', 0, 5, C_ORANGE),
  uvSeries(1, 'uvw1', uvw1, 'triangle', 0, 6, C_BLACK),
  uvSeries(2, 'u', uU, 'triangle', 180, 8, C_BLUE),
  uvSeries(2, 'b', uB, 'circle', 0, 5, C_ORANGE),
  uvSeries(2, 'v', uV, 'triangle', 0, 6, C_BLACK),
  { type: 'custom', xAxisIndex: dataX[3], yAxisIndex: dataY[3], data: lat, renderItem: errorBarRenderer(C_XRT, 1.3, LAT_RANGE[1], true), z: 3, silent: true }
];

const legendCommon = {
  orient: 'vertical', align: 'right', itemWidth: 40, itemHeight: 10, itemGap: 2,
  padding: [1, 8, 1, 3], borderColor: '#333', borderWidth: 1.5, backgroundColor: '#ffffff',
  selectedMode: false, z: 20,
  textStyle: { fontSize: 19, fontFamily: FONT, color: INK, padding: [0, 8, 0, 0] },
  lineStyle: { width: 1.5, opacity: 1 }
};

const option = {
  animation: false,
  backgroundColor: '#ffffff',
  textStyle: { fontFamily: FONT },
  grid: grids,
  xAxis: xAxes,
  yAxis: yAxes,
  series,
  legend: [
    Object.assign({ data: ['uvw2', 'uvm2', 'uvw1'], left: 483, top: 296 }, legendCommon),
    Object.assign({ data: ['u', 'b', 'v'], left: 503, top: 533 }, legendCommon)
  ],
  title: [
    { text: 'Swift-XRT: 0.3 - 10 keV', left: 293, top: 67, padding: [0, 5, 0, 5], borderColor: '#333', borderWidth: 2,
      backgroundColor: '#ffffff', shadowColor: 'rgba(0,0,0,0.35)', shadowOffsetX: 1.5, shadowOffsetY: 1.5, shadowBlur: 0,
      textStyle: { fontSize: 19, fontWeight: 'normal', color: INK, fontFamily: FONT, lineHeight: 19 } },
    { text: '{p|(PL,}{k|LP)}', left: 366, top: 90, padding: 0,
      textStyle: { fontWeight: 'normal', rich: {
        p: { color: '#9a45d6', fontSize: 19, fontFamily: FONT, fontWeight: 'normal' },
        k: { color: INK, fontSize: 19, fontFamily: FONT, fontWeight: 'normal' } } } }
  ]
};

const chart = echarts.init(document.getElementById('chart'), null, { renderer: 'canvas' });
chart.setOption(option);
</script>
</body>
</html>
